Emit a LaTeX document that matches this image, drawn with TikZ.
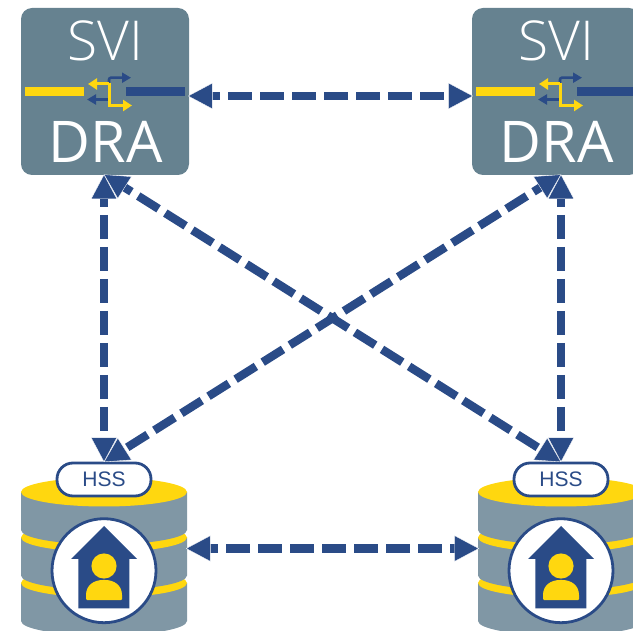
\documentclass[tikz,border=0pt]{standalone}
\usepackage{fontspec}
\setmainfont{Open Sans}
\newfontfamily\lightfont{Open Sans Light}
\newfontfamily\hssfont{Liberation Sans}
\usetikzlibrary{arrows.meta}
\definecolor{tilegrey}{HTML}{668290}
\definecolor{cylgrey}{HTML}{8097A5}
\definecolor{svyellow}{HTML}{FFD70F}
\definecolor{svblue}{HTML}{2A4B87}
\tikzset{
  link/.style={draw=svblue,line width=8.4pt,dash pattern=on 24pt off 8pt,dash phase=16pt,
    {Triangle[length=24.5pt,width=26pt,fill=svblue,color=white,line width=0.3pt]}-{Triangle[length=24.5pt,width=26pt,fill=svblue,color=white,line width=0.3pt]}},
  tile/.style={fill=tilegrey,rounded corners=11pt,minimum width=168pt,minimum height=167pt,inner sep=0pt,outer sep=0pt},
  titlesvi/.style={text=white,anchor=base,inner sep=0pt,font=\lightfont\fontsize{55}{55}\selectfont},
  titledra/.style={text=white,anchor=base,inner sep=0pt,font=\fontsize{57.5}{57.5}\selectfont},
  pill/.style={draw=svblue,fill=white,line width=2.8pt,rounded corners=16pt,minimum width=94pt,minimum height=33pt,inner sep=0pt,outer sep=0pt,text=svblue,font=\hssfont\fontsize{21}{21}\selectfont},
  badge/.style={circle,draw=svblue,fill=white,line width=2.8pt,minimum size=104pt,inner sep=0pt,outer sep=0pt},
  smallblue/.style={draw=svblue,line width=2.6pt,-{Triangle[length=9pt,width=10pt,fill=svblue]},rounded corners=2pt},
  smallyellow/.style={draw=svyellow,line width=3pt,-{Triangle[length=9pt,width=11pt,fill=svyellow]}},
}
\newcommand{\dbstack}{%
  \foreach \yy in {583,537.5,492}{
    \fill[cylgrey] (21,\yy) -- (21,\yy+38) arc[start angle=180,end angle=0,x radius=83,y radius=14.5] -- (187,\yy) -- cycle;
    \fill[svyellow] (104,\yy) ellipse[x radius=83,y radius=14.5];
  }
}
\newcommand{\housefigure}{%
  \fill[svblue] (104,526) -- (137,559) -- (129.3,559) -- (129.3,608.3) -- (78.3,608.3) -- (78.3,559) -- (71,559) -- cycle;
  \fill[svyellow] (104,566) circle[radius=12.6];
  \fill[svyellow,rounded corners=1pt] (86,600) -- (86,596) .. controls (86,585) and (94,580) .. (104,580) .. controls (114,580) and (122,585) .. (122,596) -- (122,600) -- cycle;
}
\newcommand{\switchicon}{%
  \fill[svyellow] (25,87) rectangle (84,96);
  \fill[svblue] (126,87) rectangle (185,96);
  \draw[smallblue] (109,85) -- (109,77.7) -- (131,77.7);
  \draw[smallblue] (109,99.5) -- (87,99.5);
  \draw[smallyellow] (109,84) -- (88,84);
  \draw[smallyellow] (109,82.6) -- (109,105.5) -- (132,105.5);
}
\begin{document}
\begin{tikzpicture}[x=1pt,y=-1pt]
\useasboundingbox (0,0) rectangle (633,631);
\clip (0,0) rectangle (633,631);
% server tiles
\node[tile] (tileL) at (105,91.5) {};
\node[titlesvi] (sviL) at (105.5,61) {SVI};
\node[titledra] (draL) at (105.5,163) {DRA};
\switchicon
\begin{scope}[shift={(451,0)}]
  \node[tile] (tileR) at (105,91.5) {};
  \node[titlesvi] (sviR) at (105.5,61) {SVI};
  \node[titledra] (draR) at (105.5,163) {DRA};
  \switchicon
\end{scope}
% databases
\dbstack
\node[badge] (badgeL) at (104,570.7) {};
\housefigure
\node[pill] (hssL) at (104,479.5) {HSS};
\begin{scope}[shift={(457,0)}]
  \dbstack
  \node[badge] (badgeR) at (104,570.7) {};
  \housefigure
  \node[pill] (hssR) at (104,479.5) {HSS};
\end{scope}
% connector ends
\coordinate (portTL) at (104,174.5);
\coordinate (portTR) at (561,174.5);
\coordinate (portHL) at (104,462);
\coordinate (portHR) at (561,462);
\coordinate (eastTL) at (188,96);
\coordinate (westTR) at (473,96);
\coordinate (eastDL) at (186,548.5);
\coordinate (westDR) at (479,548.5);
% connectors
\draw[link] (portTL) -- (portHL);
\draw[link] (portTR) -- (portHR);
\draw[link] (portTL) -- (portHR);
\draw[link] (portTR) -- (portHL);
\draw[link] (eastTL) -- (westTR);
\draw[link] (eastDL) -- (westDR);
\end{tikzpicture}
\end{document}
